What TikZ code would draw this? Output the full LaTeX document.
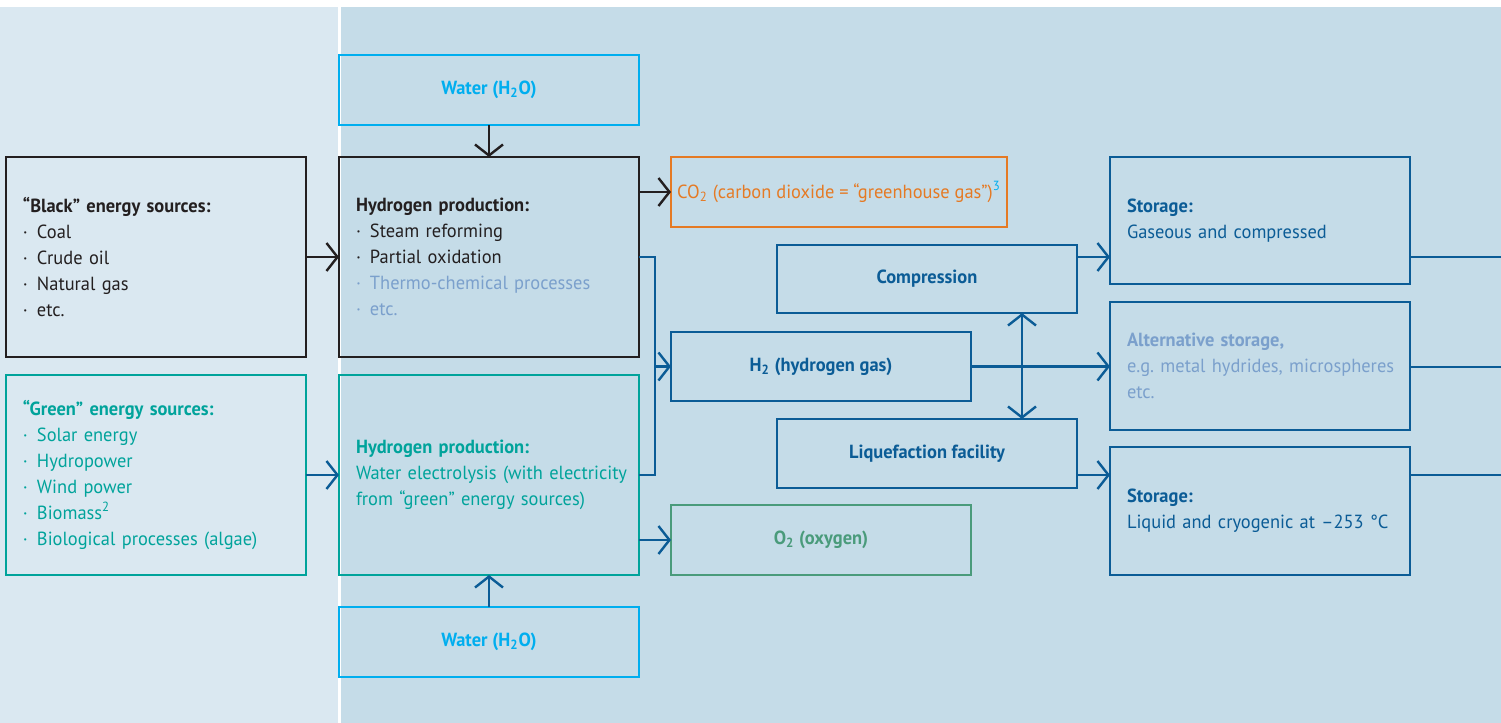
\documentclass[tikz,border=0pt]{standalone}
\usepackage{fontspec}
\setmainfont{PT Sans}[FakeStretch=0.97]
\usetikzlibrary{arrows.meta}
\definecolor{bgL}{HTML}{DAE8F1}
\definecolor{bgR}{HTML}{C5DCE8}
\definecolor{cblk}{HTML}{231F20}
\definecolor{ccyan}{HTML}{00AEEF}
\definecolor{corange}{HTML}{E57A24}
\definecolor{cblue}{HTML}{0B5C96}
\definecolor{clight}{HTML}{7BA0CC}
\definecolor{cteal}{HTML}{00A39B}
\definecolor{cgreen}{HTML}{4A9B7B}
\newcommand{\itm}[1]{\makebox[7pt][l]{·}#1}
\frenchspacing
\begin{document}
\begin{tikzpicture}[x=0.5pt,y=-0.5pt, font=\fontsize{9.5}{13}\selectfont,
  box/.style={draw, line width=1.3pt, inner sep=0pt, outer sep=0pt, anchor=north west, minimum width=150pt},
  lbox/.style={box, align=left, text width=133pt, inner xsep=8.5pt},
  bbox/.style={box, font=\fontsize{9.5}{13}\selectfont\bfseries},
  arr/.style={line width=1.2pt, -{Straight Barb[length=5.5pt,width=14pt]}},
  darr/.style={line width=1.2pt, {Straight Barb[length=5.5pt,width=14pt]}-{Straight Barb[length=5.5pt,width=14pt]}},
  ln/.style={line width=1.2pt}]
\useasboundingbox (0,0) rectangle (1501,723);
\fill[white] (0,0) rectangle (1501,723);
\fill[bgL] (0,7) rectangle (338,723);
\fill[bgR] (341,7) rectangle (1501,723);

\node[bbox, draw=ccyan, text=ccyan, minimum height=35pt] (wt) at (339,55) {Water (H\textsubscript{2}O)};
\node[lbox, draw=cblk, text=cblk, minimum height=100pt] (bs) at (6,157)
  {\textbf{“Black” energy sources:}\\ \itm{Coal}\\ \itm{Crude oil}\\ \itm{Natural gas}\\ \itm{etc.}};
\node[lbox, draw=cblk, text=cblk, minimum height=100pt] (hb) at (339,157)
  {\textbf{Hydrogen production:}\\ \itm{Steam reforming}\\ \itm{Partial oxidation}\\ \textcolor{clight}{\itm{\mbox{Thermo-chemical processes}}}\\ \textcolor{clight}{\itm{etc.}}};
\node[box, draw=corange, text=corange, minimum width=168pt, minimum height=35pt] (co2) at (671,157)
  {CO\textsubscript{2} (carbon dioxide = “greenhouse gas”)\textsuperscript{\textcolor{ccyan}{3}}};
\node[bbox, draw=cblue, text=cblue, minimum height=34pt] (comp) at (777,245) {Compression};
\node[bbox, draw=cblue, text=cblue, minimum height=34.5pt] (h2) at (671,332) {H\textsubscript{2} (hydrogen gas)};
\node[bbox, draw=cblue, text=cblue, minimum height=34.5pt] (liq) at (777,419) {Liquefaction facility};
\node[lbox, draw=cblue, text=cblue, minimum height=63.5pt] (sg) at (1110,157)
  {\textbf{Storage:}\\ Gaseous and compressed};
\node[lbox, draw=cblue, text=clight, minimum height=64pt] (alt) at (1110,302)
  {\textbf{Alternative storage,}\\ \mbox{e.g. metal hydrides, microspheres}\\ etc.};
\node[lbox, draw=cblue, text=cblue, minimum height=64pt] (sl) at (1110,447)
  {\textbf{Storage:}\\ \mbox{Liquid and cryogenic at –253 °C}};
\node[lbox, draw=cteal, text=cteal, minimum height=100pt] (gs) at (6,375)
  {\textbf{“Green” energy sources:}\\ \itm{Solar energy}\\ \itm{Hydropower}\\ \itm{Wind power}\\ \itm{Biomass\textsuperscript{2}}\\ \itm{\mbox{Biological processes (algae)}}};
\node[lbox, draw=cteal, text=cteal, minimum height=100pt] (hg) at (339,375)
  {\textbf{Hydrogen production:}\\ \mbox{Water electrolysis (with electricity}\\ \mbox{from “green” energy sources)}};
\node[bbox, draw=cgreen, text=cgreen, minimum height=35pt] (o2) at (671,505) {O\textsubscript{2} (oxygen)};
\node[bbox, draw=ccyan, text=ccyan, minimum height=35pt] (wb) at (339,607) {Water (H\textsubscript{2}O)};

\coordinate (j1) at (655,257);
\coordinate (j2) at (655,475);
\coordinate (dx) at (1022,0);
\coordinate (e1) at (1501,257);
\coordinate (e2) at (1501,367);
\coordinate (e3) at (1501,475);

\draw[arr, cblk] (wt.south) -- (hb.north);
\draw[arr, cblk] (bs.east) -- (hb.west);
\draw[arr, cblk] (hb.east |- co2.west) -- (co2.west);
\draw[ln, cblue] (hb.east) -- (j1) -- (j2) -- (hg.east);
\draw[arr, cblue] (j1 |- h2.west) -- (h2.west);
\draw[arr, cblue] (gs.east) -- (hg.west);
\draw[arr, cblue] (hg.east |- o2.west) -- (o2.west);
\draw[arr, cblue] (wb.north) -- (hg.south);
\draw[arr, cblue] (comp.east |- j1) -- (sg.west |- j1);
\draw[arr, cblue] (h2.east) -- (alt.west |- h2.east);
\draw[arr, cblue] (liq.east |- j2) -- (sl.west |- j2);
\draw[darr, cblue] (comp.south -| dx) -- (liq.north -| dx);
\draw[ln, cblue] (sg.east |- e1) -- (e1);
\draw[ln, cblue] (alt.east |- e2) -- (e2);
\draw[ln, cblue] (sl.east |- e3) -- (e3);
\end{tikzpicture}
\end{document}
